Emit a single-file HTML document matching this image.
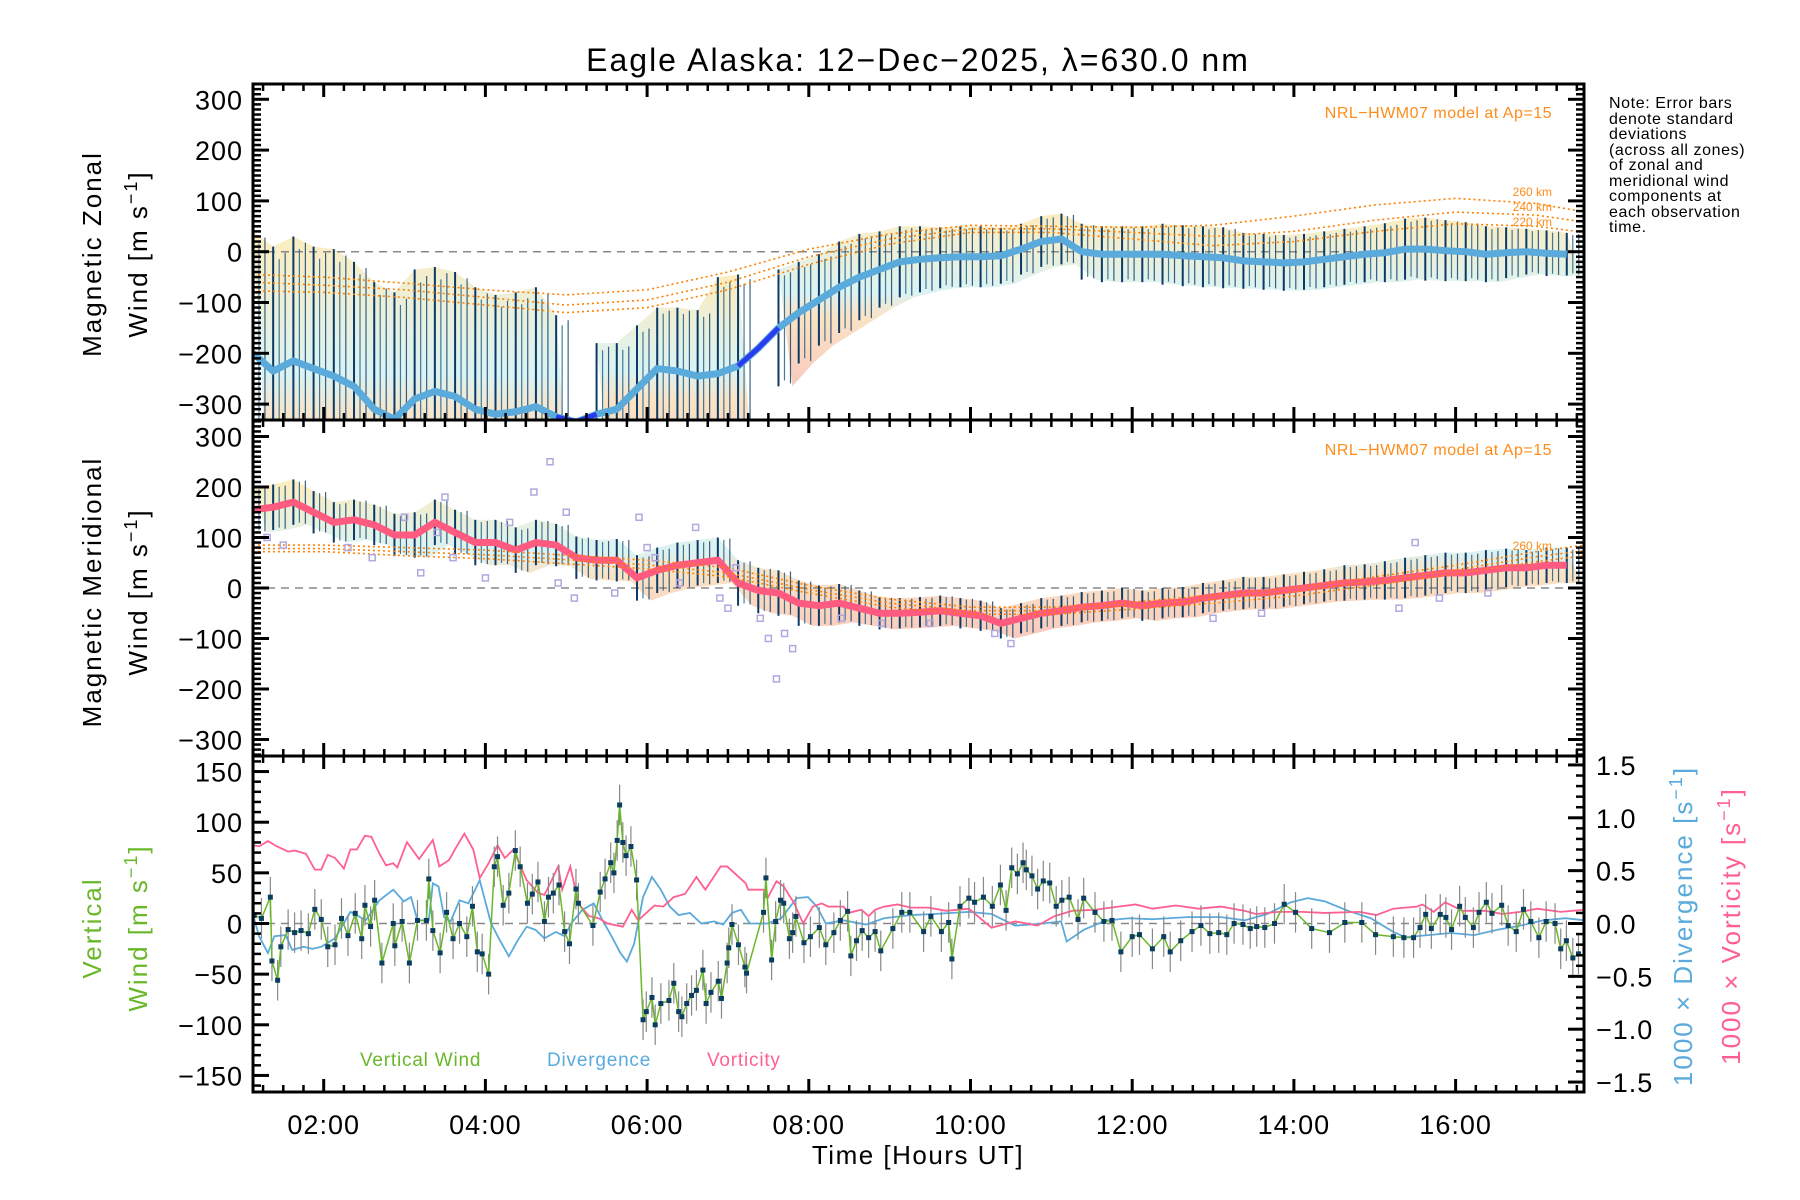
<!DOCTYPE html>
<html><head><meta charset="utf-8"><title>Eagle Alaska winds</title>
<style>
html,body{margin:0;padding:0;background:#fff;}
svg{display:block;font-family:"Liberation Sans",sans-serif;}
</style></head>
<body>
<svg id="chart" width="1800" height="1200" viewBox="0 0 1800 1200" xmlns="http://www.w3.org/2000/svg">
<defs>
<clipPath id="c1"><rect x="253" y="84" width="1331" height="336"/></clipPath>
<clipPath id="c2"><rect x="253" y="420" width="1331" height="336"/></clipPath>
<clipPath id="c3"><rect x="253" y="756" width="1331" height="336"/></clipPath>
<linearGradient id="band" x1="0" y1="0" x2="0" y2="1">
<stop offset="0" stop-color="#fde6a8"/><stop offset="0.45" stop-color="#cfeff0"/><stop offset="0.6" stop-color="#f9d9b0"/><stop offset="1" stop-color="#f7b8a8"/>
</linearGradient>
</defs>
<text x="918" y="71" font-size="32" letter-spacing="2" text-anchor="middle" fill="#000">Eagle Alaska: 12−Dec−2025, λ=630.0 nm</text>
<g id="p1"></g>
<g id="p2"></g>
<g id="p3"></g>
<g id="axes"></g>
<text transform="translate(101,254) rotate(-90)" font-size="26" letter-spacing="2" text-anchor="middle">Magnetic Zonal</text>
<text transform="translate(147,254) rotate(-90)" font-size="26" letter-spacing="2" text-anchor="middle">Wind [m s<tspan dy="-10" font-size="18">−1</tspan><tspan dy="10">]</tspan></text>
<text transform="translate(101,592) rotate(-90)" font-size="26" letter-spacing="2" text-anchor="middle">Magnetic Meridional</text>
<text transform="translate(147,592) rotate(-90)" font-size="26" letter-spacing="2" text-anchor="middle">Wind [m s<tspan dy="-10" font-size="18">−1</tspan><tspan dy="10">]</tspan></text>
<text transform="translate(101,928) rotate(-90)" font-size="26" letter-spacing="2" text-anchor="middle" fill="#6ab82a">Vertical</text>
<text transform="translate(147,928) rotate(-90)" font-size="26" letter-spacing="2" text-anchor="middle" fill="#6ab82a">Wind [m s<tspan dy="-10" font-size="18">−1</tspan><tspan dy="10">]</tspan></text>
<text transform="translate(1692,926) rotate(-90)" font-size="26" letter-spacing="2" text-anchor="middle" fill="#5aaadc">1000 × Divergence [s<tspan dy="-10" font-size="18">−1</tspan><tspan dy="10">]</tspan></text>
<text transform="translate(1740,926) rotate(-90)" font-size="26" letter-spacing="2" text-anchor="middle" fill="#ff6090">1000 × Vorticity [s<tspan dy="-10" font-size="18">−1</tspan><tspan dy="10">]</tspan></text>
<text x="918" y="1164" font-size="26" letter-spacing="1.5" text-anchor="middle">Time [Hours UT]</text>
<text x="1552" y="118" font-size="16" letter-spacing="0.5" text-anchor="end" fill="#ff8c1a">NRL−HWM07 model at Ap=15</text>
<text x="1552" y="455" font-size="16" letter-spacing="0.5" text-anchor="end" fill="#ff8c1a">NRL−HWM07 model at Ap=15</text>
<text x="1552" y="196" font-size="12" text-anchor="end" fill="#ff8c1a">260 km</text>
<text x="1552" y="211" font-size="12" text-anchor="end" fill="#ff8c1a">240 km</text>
<text x="1552" y="226" font-size="12" text-anchor="end" fill="#ff8c1a">220 km</text>
<text x="1552" y="550" font-size="12" text-anchor="end" fill="#ff8c1a">260 km</text>
<g font-size="16" letter-spacing="0.6" fill="#000">
<text x="1609" y="108">Note: Error bars</text>
<text x="1609" y="124">denote standard</text>
<text x="1609" y="139">deviations</text>
<text x="1609" y="155">(across all zones)</text>
<text x="1609" y="170">of zonal and</text>
<text x="1609" y="186">meridional wind</text>
<text x="1609" y="201">components at</text>
<text x="1609" y="217">each observation</text>
<text x="1609" y="232">time.</text>
</g>
<text x="360" y="1066" font-size="19" letter-spacing="0.8" fill="#6ab82a">Vertical Wind</text>
<text x="547" y="1066" font-size="19" letter-spacing="0.8" fill="#5aaadc">Divergence</text>
<text x="707" y="1066" font-size="19" letter-spacing="0.8" fill="#ff6090">Vorticity</text>
</svg>
<script>
const times = [1.125,1.375,1.625,1.875,2.125,2.375,2.625,2.875,3.125,3.375,3.625,3.875,4.125,4.375,4.625,4.875,5.125,5.375,5.625,5.875,6.125,6.375,6.625,6.875,7.125,7.375,7.625,7.875,8.125,8.375,8.625,8.875,9.125,9.375,9.625,9.875,10.125,10.375,10.625,10.875,11.125,11.375,11.625,11.875,12.125,12.375,12.625,12.875,13.125,13.375,13.625,13.875,14.125,14.375,14.625,14.875,15.125,15.375,15.625,15.875,16.125,16.375,16.625,16.875,17.125,17.375];
const zonalMean = [-200,-235,-215,-230,-245,-265,-310,-330,-290,-275,-285,-310,-320,-315,-305,-325,-335,-320,-310,-270,-230,-235,-245,-240,-225,-190,-150,-120,-95,-70,-50,-35,-20,-15,-12,-10,-10,-8,5,20,25,0,-5,-5,-5,-5,-8,-10,-12,-18,-20,-22,-20,-15,-10,-5,-2,5,5,2,0,-5,-2,0,-3,-5];
const zonalSigma = [240,245,245,240,250,245,250,250,255,245,245,240,235,235,235,200,null,140,130,125,120,125,130,190,180,null,115,100,90,90,85,75,70,65,60,60,60,55,50,50,50,55,55,55,55,60,60,60,60,55,55,55,55,55,55,55,58,60,62,60,58,55,50,45,45,42];
const meridMean = [155,160,170,150,130,135,125,105,105,130,110,90,90,75,90,85,60,55,55,20,35,45,50,55,10,-5,-10,-30,-35,-30,-40,-50,-50,-48,-45,-50,-55,-70,-60,-50,-45,-38,-35,-30,-35,-30,-28,-20,-15,-10,-10,-5,0,5,10,12,15,20,25,30,30,35,40,40,45,45];
const meridSigma = [45,45,45,42,40,40,40,42,45,45,45,45,45,45,45,42,42,40,42,45,45,45,45,45,45,45,45,45,40,38,35,32,30,30,30,30,30,30,30,30,30,30,30,30,30,30,30,30,30,32,32,32,32,32,35,35,38,40,40,40,40,40,38,35,35,35];
const zonalGaps = [[4.95,5.45],[7.15,7.6]];
const meridOutlierHours = [1.3,1.5,2.3,2.6,3.0,3.2,3.4,3.5,3.6,4.0,4.3,4.6,4.8,4.9,5.0,5.1,5.6,5.9,6.0,6.1,6.4,6.6,6.9,7.0,7.1,7.4,7.5,7.6,7.7,7.8,8.4,8.9,9.5,10.3,10.5,13.0,13.6,15.3,15.5,15.8,16.4];
const meridOutlierValues = [100,85,80,60,140,30,110,180,60,20,130,190,250,10,150,-20,-10,140,80,60,10,120,-20,-40,40,-60,-100,-180,-90,-120,-60,-70,-70,-90,-110,-60,-50,-40,90,-20,-10];
const modelHours = [1.125,2,3,4,5,6,7,8,9,10,11,12,13,14,15,16,17,17.6];
const zonal260 = [-45,-50,-62,-75,-85,-75,-40,5,35,52,50,48,52,70,92,105,95,78];
const zonal240 = [-60,-66,-75,-90,-105,-95,-60,-10,25,45,45,38,30,40,62,78,72,58];
const zonal220 = [-77,-80,-90,-105,-120,-110,-75,-25,15,38,38,25,12,20,40,55,50,38];
const merid260 = [85,85,80,75,65,55,40,5,-22,-38,-38,-28,-14,0,22,45,72,85];
const merid240 = [78,78,72,66,56,46,30,-3,-30,-45,-45,-35,-22,-8,14,36,62,74];
const merid220 = [72,72,64,58,48,38,22,-10,-38,-52,-52,-42,-30,-16,6,28,52,64];
const vwHours = [1.14,1.23,1.34,1.36,1.43,1.47,1.56,1.64,1.72,1.81,1.89,1.97,2.05,2.14,2.22,2.30,2.39,2.47,2.51,2.58,2.63,2.72,2.86,2.88,2.97,3.06,3.16,3.27,3.30,3.35,3.44,3.52,3.60,3.68,3.77,3.84,3.90,3.96,4.04,4.11,4.15,4.22,4.29,4.37,4.43,4.52,4.58,4.65,4.73,4.78,4.84,4.91,4.98,5.04,5.12,5.15,5.33,5.42,5.48,5.55,5.59,5.63,5.66,5.70,5.74,5.80,5.87,5.95,5.99,6.06,6.10,6.17,6.27,6.33,6.39,6.43,6.49,6.55,6.61,6.69,6.73,6.79,6.88,6.92,6.99,7.01,7.05,7.13,7.21,7.23,7.44,7.47,7.54,7.59,7.65,7.69,7.76,7.80,7.84,7.94,8.02,8.13,8.21,8.31,8.39,8.48,8.52,8.59,8.66,8.74,8.82,8.89,9.04,9.15,9.25,9.42,9.51,9.64,9.73,9.77,9.87,9.98,10.05,10.16,10.27,10.37,10.44,10.51,10.58,10.65,10.69,10.76,10.83,10.90,10.98,11.06,11.13,11.22,11.33,11.40,11.54,11.65,11.75,11.86,12.00,12.09,12.25,12.39,12.47,12.60,12.74,12.85,12.96,13.07,13.17,13.26,13.37,13.46,13.54,13.64,13.76,13.88,14.02,14.22,14.44,14.63,14.84,15.01,15.23,15.36,15.48,15.56,15.63,15.70,15.81,15.88,15.95,16.05,16.12,16.22,16.29,16.38,16.45,16.57,16.65,16.75,16.84,16.93,17.03,17.12,17.23,17.30,17.37,17.45,17.52];
const vwValues = [8,5,26,-37,-56,-23,-6,-9,-7,-10,14,4,-23,-21,5,-12,10,-15,18,-3,23,-39,0,-22,2,-39,3,3,44,-7,-29,11,-15,0,-13,17,-28,-30,-50,56,66,18,30,72,56,20,29,41,2,26,30,38,-8,-20,34,20,-2,31,44,60,50,82,117,80,67,76,43,-95,-87,-73,-100,-79,-76,-59,-87,-92,-79,-71,-66,-46,-79,-68,-57,-74,-39,-24,-1,-21,-43,-49,11,45,-36,2,23,20,-15,-9,7,-19,-13,-4,-21,-9,3,12,-32,-17,-7,-14,-8,-27,-5,11,11,-8,7,-8,1,-35,17,25,21,26,17,38,13,55,49,60,53,47,34,42,40,17,23,26,4,25,11,2,3,-28,-13,-11,-25,-13,-28,-17,-8,-2,-10,-9,-11,0,-1,-5,-3,-4,0,19,11,-5,-9,1,1,-11,-13,-14,-14,-4,9,-5,9,6,-6,17,6,-4,11,21,10,18,-2,-8,14,2,-14,2,0,-25,-17,-34,-30];
const vwError = [20];
const divHours = [1.12,1.20,1.31,1.39,1.53,1.61,1.75,1.86,1.97,2.14,2.33,2.52,2.69,2.86,2.99,3.08,3.16,3.30,3.35,3.42,3.49,3.57,3.68,3.79,3.93,4.07,4.18,4.29,4.40,4.51,4.62,4.73,4.87,4.98,5.06,5.20,5.34,5.45,5.56,5.67,5.75,5.84,5.95,6.06,6.17,6.28,6.39,6.53,6.67,6.83,6.94,7.05,7.16,7.27,7.49,7.66,7.77,7.85,7.99,8.10,8.21,8.43,8.71,8.93,9.26,9.55,9.98,10.26,10.55,10.90,11.12,11.19,11.40,11.68,11.97,12.25,12.68,13.10,13.39,13.67,13.96,14.17,14.38,14.67,14.95,15.23,15.38,15.66,15.94,16.23,16.51,16.80,17.08,17.36,17.59];
const divValues = [0.10,-0.12,-0.28,-0.12,-0.11,-0.25,-0.22,-0.24,-0.22,-0.14,0.11,0.03,0.22,0.32,0.21,0.25,0.03,0.03,0.38,0.35,0.06,0.02,0.22,0.19,0.41,0.00,-0.16,-0.31,-0.16,-0.03,-0.06,-0.14,-0.08,-0.12,0.00,0.13,0.19,0.03,-0.12,-0.28,-0.36,-0.19,0.25,0.44,0.32,0.16,0.08,0.10,0.00,0.02,-0.01,0.10,0.13,0.00,0.00,0.05,0.16,0.24,0.25,0.16,0.00,0.03,-0.01,0.05,0.08,0.09,0.11,0.09,-0.02,0.00,0.02,-0.17,-0.06,0.03,0.05,0.04,0.06,0.06,0.03,0.09,0.20,0.24,0.21,0.12,0.05,-0.08,-0.13,-0.11,-0.09,-0.11,-0.06,-0.02,0.03,0.05,0.03];
const vortHours = [1.12,1.20,1.31,1.42,1.56,1.64,1.78,1.89,1.97,2.05,2.14,2.25,2.33,2.41,2.51,2.59,2.69,2.77,2.86,2.91,3.03,3.18,3.35,3.43,3.55,3.63,3.74,3.85,3.93,4.04,4.15,4.24,4.35,4.40,4.51,4.65,4.73,4.82,4.90,4.95,5.05,5.15,5.28,5.40,5.51,5.70,5.81,5.89,6.09,6.20,6.33,6.47,6.61,6.72,6.91,6.99,7.22,7.25,7.44,7.49,7.60,7.69,7.82,7.93,8.05,8.16,8.24,8.43,8.49,8.65,8.74,8.82,8.93,9.10,9.26,9.48,9.70,9.98,10.26,10.55,10.83,11.04,11.26,11.54,11.83,12.04,12.25,12.54,12.82,13.10,13.39,13.53,13.81,14.10,14.38,14.81,15.02,15.23,15.52,15.59,15.73,15.87,16.09,16.37,16.58,16.80,17.01,17.30,17.59];
const vortValues = [0.74,0.73,0.78,0.73,0.68,0.69,0.66,0.51,0.51,0.65,0.62,0.52,0.70,0.70,0.83,0.82,0.66,0.55,0.57,0.53,0.77,0.61,0.79,0.54,0.60,0.71,0.85,0.70,0.43,0.57,0.74,0.62,0.70,0.60,0.41,0.29,0.27,0.41,0.54,0.32,0.54,0.19,0.07,0.05,0.00,-0.03,0.13,0.03,0.17,0.16,0.25,0.28,0.44,0.32,0.54,0.54,0.38,0.32,0.32,0.24,0.40,0.35,0.19,0.00,0.16,0.19,0.16,0.16,0.10,0.13,0.07,0.13,0.16,0.18,0.15,0.15,0.12,0.14,-0.04,0.02,-0.02,0.07,0.12,0.13,0.16,0.18,0.14,0.17,0.14,0.16,0.12,0.09,0.11,0.11,0.10,0.11,0.08,0.14,0.16,0.18,0.11,0.20,0.12,0.12,0.09,0.11,0.14,0.11,0.13];
const xTickLabels = ["02:00","04:00","06:00","08:00","10:00","12:00","14:00","16:00"];
const xTickHours = [2,4,6,8,10,12,14,16];
const windTickValues = [300,200,100,0,-100,-200,-300];
const vwTickValues = [150,100,50,0,-50,-100,-150];
const rightTickValues = [1.5,1.0,0.5,0.0,-0.5,-1.0,-1.5];

const NS = "http://www.w3.org/2000/svg";
const L = 253, R = 1584;
const X = h => 162 + h * 80.85;
const Y1 = v => 251.7 - v * 0.508;
const Y2 = v => 588 - v * 0.505;
const YL = v => 923.5 - v * 1.013;
const YR = v => 923.5 - v * 105.7;
function mk(tag, attrs, parent) {
  const e = document.createElementNS(NS, tag);
  for (const k in attrs) e.setAttribute(k, attrs[k]);
  parent.appendChild(e);
  return e;
}
const fmt = v => (v < 0 ? "−" + String(Math.abs(v)) : String(v));
const fmt1 = v => (v < 0 ? "−" + Math.abs(v).toFixed(1) : v.toFixed(1));

function windPanel(g, clip, Y, mean, sigma, lineColor, gaps, prefix) {
  const c = mk("g", {"clip-path": "url(#" + clip + ")"}, g);
  // pastel band, split at missing sigma
  const segs = [];
  let cur = [];
  times.forEach((t, i) => {
    if (sigma[i] === null) { if (cur.length) segs.push(cur); cur = []; }
    else cur.push(i);
  });
  if (cur.length) segs.push(cur);
  segs.forEach(sg => {
    const up = [], dn = [];
    const pad = sg.length === 1 ? 8 : 0;
    sg.forEach(i => { up.push((X(times[i]) - pad) + "," + Y(mean[i] + sigma[i])); dn.unshift((X(times[i]) + 14) + "," + Y(mean[i] - sigma[i])); });
    const band = mk("polygon", {points: up.concat(dn).join(" "), fill: "url(#band)", opacity: 0.75}, c);
    
    
  });
  const z = mk("line", {x1: L, x2: R, y1: Y(0), y2: Y(0), stroke: "#888", "stroke-width": 1.5, "stroke-dasharray": "8,6"}, c);
  
  
  times.forEach((t, i) => {
    if (sigma[i] === null) return;
    const b = mk("line", {x1: X(t), x2: X(t), y1: Y(mean[i] + sigma[i]), y2: Y(mean[i] - sigma[i]), stroke: "#0b3a66", "stroke-width": 2}, c);
    
    
    const b2 = mk("line", {x1: X(t) + 6, x2: X(t) + 6, y1: Y(mean[i] + sigma[i] * 0.9), y2: Y(mean[i] - sigma[i] * 0.9), stroke: "#1a5a80", "stroke-width": 1.2, opacity: 0.8}, c);
    
    
    const b3 = mk("line", {x1: X(t) + 12, x2: X(t) + 12, y1: Y(mean[i] + sigma[i] * 0.95), y2: Y(mean[i] - sigma[i] * 0.95), stroke: "#0b3a66", "stroke-width": 1.2, opacity: 0.8}, c);
    
    
  });
  const pts = times.map((t, i) => X(t) + "," + Y(mean[i])).join(" ");
  const top = mk("polyline", {points: pts, fill: "none", stroke: lineColor, "stroke-width": 7, "stroke-linejoin": "round"}, c);
  
  
  if (gaps) {
    gaps.forEach(gp => {
      const seg = [];
      times.forEach((t, i) => { if (t >= gp[0] - 0.13 && t <= gp[1] + 0.13) seg.push(X(t) + "," + Y(mean[i])); });
      const s = mk("polyline", {points: seg.join(" "), fill: "none", stroke: "#2a3cf0", "stroke-width": 5}, c);
      
      
    });
  }
  return c;
}
function modelLine(c, Y, vals, name) {
  const p = mk("polyline", {points: modelHours.map((h, i) => X(h) + "," + Y(vals[i])).join(" "), fill: "none", stroke: "#ff8000", "stroke-width": 1.6, "stroke-dasharray": "2,3"}, c);
  
  
}
const p1 = document.getElementById("p1"), p2 = document.getElementById("p2"), p3 = document.getElementById("p3");
const c1 = windPanel(p1, "c1", Y1, zonalMean, zonalSigma, "#5aaadc", zonalGaps, "zonal");
modelLine(c1, Y1, zonal260, "zonal-model-260km");
modelLine(c1, Y1, zonal240, "zonal-model-240km");
modelLine(c1, Y1, zonal220, "zonal-model-220km");
const c2 = windPanel(p2, "c2", Y2, meridMean, meridSigma, "#ff5a80", null, "meridional");
modelLine(c2, Y2, merid260, "meridional-model-260km");
modelLine(c2, Y2, merid240, "meridional-model-240km");
modelLine(c2, Y2, merid220, "meridional-model-220km");
meridOutlierHours.forEach((h, i) => {
  const s = mk("rect", {x: X(h) - 3, y: Y2(meridOutlierValues[i]) - 3, width: 6, height: 6, fill: "none", stroke: "#b0a8e0", "stroke-width": 1.5}, c2);
  
  
});

// panel 3
const c3 = mk("g", {"clip-path": "url(#c3)"}, p3);
const z3 = mk("line", {x1: L, x2: R, y1: YL(0), y2: YL(0), stroke: "#888", "stroke-width": 1.5, "stroke-dasharray": "8,6"}, c3);


const divLine = mk("polyline", {points: divHours.map((h, i) => X(h) + "," + YR(divValues[i])).join(" "), fill: "none", stroke: "#5aaadc", "stroke-width": 1.8}, c3);


const vortLine = mk("polyline", {points: vortHours.map((h, i) => X(h) + "," + YR(vortValues[i])).join(" "), fill: "none", stroke: "#ff6090", "stroke-width": 1.8}, c3);


vwHours.forEach((h, i) => {
  const e = mk("line", {x1: X(h), x2: X(h), y1: YL(vwValues[i] + vwError[0]), y2: YL(vwValues[i] - vwError[0]), stroke: "#888", "stroke-width": 1.2}, c3);
  
  
});
const vwLine = mk("polyline", {points: vwHours.map((h, i) => X(h) + "," + YL(vwValues[i])).join(" "), fill: "none", stroke: "#6ab82a", "stroke-width": 1.5}, c3);


vwHours.forEach((h, i) => {
  const d = mk("rect", {x: X(h) - 2.5, y: YL(vwValues[i]) - 2.5, width: 5, height: 5, fill: "#0a3d60"}, c3);
  
  
});

// axes
const ax = document.getElementById("axes");
const panels = [[84, 420], [420, 756], [756, 1092]];
panels.forEach((p, pi) => {
  const fr = mk("rect", {x: L, y: p[0], width: R - L, height: p[1] - p[0], fill: "none", stroke: "#000", "stroke-width": 3}, ax);
  
  
  for (let q = 5; q <= 70; q++) {
    const h = q / 4;
    const x = X(h);
    if (x < L || x > R) continue;
    const major = q % 8 === 0;
    const len = major ? 13 : 7;
    const t1 = mk("line", {x1: x, x2: x, y1: p[0], y2: p[0] + len, stroke: "#000", "stroke-width": major ? 3 : 2.5}, ax);
    
    
    const t2 = mk("line", {x1: x, x2: x, y1: p[1], y2: p[1] - len, stroke: "#000", "stroke-width": major ? 3 : 2.5}, ax);
    
    
  }
});
function yTicks(Y, lo, hi, step, majorEvery, top, bot, side) {
  for (let v = lo; v <= hi + 1e-9; v += step) {
    const y = Y(v);
    if (y < top + 1 || y > bot - 1) continue;
    const major = Math.abs(Math.round(v / step) % majorEvery) === 0;
    const len = major ? 16 : 8;
    const x0 = side === "left" ? L : R;
    const dir = side === "left" ? 1 : -1;
    const t = mk("line", {x1: x0, x2: x0 + dir * len, y1: y, y2: y, stroke: "#000", "stroke-width": major ? 3 : 2.5}, ax);
    
    
  }
}
yTicks(Y1, -330, 330, 10, 10, 84, 420, "left"); yTicks(Y1, -330, 330, 10, 10, 84, 420, "right");
yTicks(Y2, -330, 330, 10, 10, 420, 756, "left"); yTicks(Y2, -330, 330, 10, 10, 420, 756, "right");
yTicks(YL, -170, 170, 10, 5, 756, 1092, "left");
yTicks(YR, -1.6, 1.6, 0.1, 5, 756, 1092, "right");
windTickValues.forEach(v => {
  const a = mk("text", {x: 243, y: Y1(v) + 10, "font-size": 27, "letter-spacing": 1, "text-anchor": "end"}, ax);
  a.textContent = fmt(v);
  
  
  const b = mk("text", {x: 243, y: Y2(v) + 10, "font-size": 27, "letter-spacing": 1, "text-anchor": "end"}, ax);
  b.textContent = fmt(v);
  
  
});
vwTickValues.forEach(v => {
  const a = mk("text", {x: 243, y: YL(v) + 10, "font-size": 27, "letter-spacing": 1, "text-anchor": "end"}, ax);
  a.textContent = fmt(v);
  
  
});
rightTickValues.forEach(v => {
  const a = mk("text", {x: 1596, y: YR(v) + 10, "font-size": 27, "letter-spacing": 1, "text-anchor": "start"}, ax);
  a.textContent = fmt1(v);
  
  
});
xTickHours.forEach((h, i) => {
  const a = mk("text", {x: X(h), y: 1134, "font-size": 27, "letter-spacing": 1, "text-anchor": "middle"}, ax);
  a.textContent = xTickLabels[i];
  
  
});
</script>
</body></html>
